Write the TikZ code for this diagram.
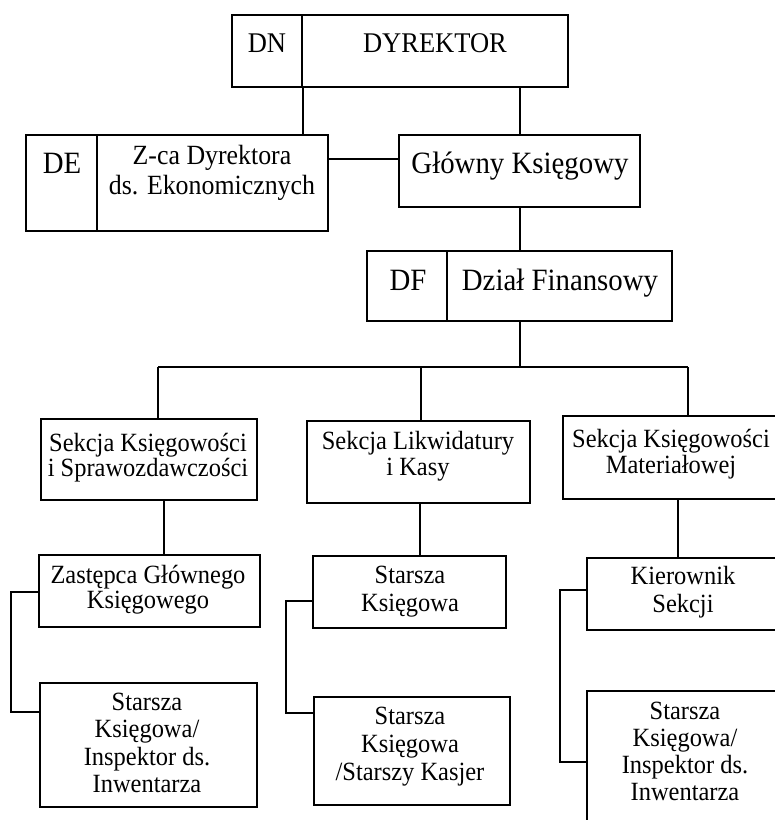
\documentclass[tikz,border=0pt]{standalone}
\usepackage{fontspec}
\setmainfont{Liberation Serif}[FakeStretch=0.93]
\begin{document}
\begin{tikzpicture}[x=1pt,y=-1pt,
  box/.style={draw, line width=1.7pt, inner sep=0pt, rectangle},
  ln/.style={line width=1.7pt},
  big/.style={font=\fontsize{31}{34}\selectfont, anchor=base, inner sep=0pt},
  midt/.style={font=\fontsize{27.8}{30}\selectfont, anchor=base, inner sep=0pt, align=center},
  smt/.style={font=\fontsize{26.3}{#1}\selectfont, anchor=base, inner sep=0pt, align=center},
  smt/.default=27]
\clip (0,0) rectangle (775,820);
\fill[white] (0,0) rectangle (775,820);
% boxes
\node[box, minimum width=336pt, minimum height=72pt] (dyr) at (400,51) {};
\node[box, minimum width=302pt, minimum height=96pt] (de) at (177,183) {};
\node[box, minimum width=241pt, minimum height=72pt] (gk) at (519.5,171) {};
\node[box, minimum width=305pt, minimum height=70pt] (df) at (519.5,286) {};
\node[box, minimum width=216pt, minimum height=81pt] (s1) at (149,459.5) {};
\node[box, minimum width=223pt, minimum height=82pt] (s2) at (418.5,462) {};
\node[box, minimum width=237pt, minimum height=83pt] (s3) at (681.5,457.5) {};
\node[box, minimum width=221pt, minimum height=72pt] (z1) at (149.5,591) {};
\node[box, minimum width=217pt, minimum height=124pt] (z2) at (148.5,745) {};
\node[box, minimum width=193pt, minimum height=72pt] (m1) at (409.5,592) {};
\node[box, minimum width=196pt, minimum height=108pt] (m2) at (412,751) {};
\node[box, minimum width=213pt, minimum height=72pt] (r1) at (693.5,594) {};
\node[box, minimum width=213pt, minimum height=159pt] (r2) at (693.5,770.5) {};
% dividers
\draw[ln] (dyr.north west) ++(71,0) -- ++(0,72);
\draw[ln] (de.north west) ++(72,0) -- ++(0,96);
\draw[ln] (df.north west) ++(81,0) -- ++(0,70);
% texts (anchor base = baseline of the last line)
\node[big, font=\fontsize{28.5}{30}\selectfont] (tdn) at (267,52) {DN};
\node[big, font=\fontsize{28.5}{30}\selectfont] (tdyr) at (435,52) {DYREKTOR};
\node[big] (tde) at (62,173) {DE};
\node[midt] (tzca) at (212,194) {Z-ca Dyrektora\\ds. Ekonomicznych};
\node[big] (tgk) at (520,173) {Główny Księgowy};
\node[big] (tdf) at (408,290) {DF};
\node[big] (tdfin) at (560,290) {Dział Finansowy};
\node[smt=25] (ts1) at (148,476) {Sekcja Księgowości\\i Sprawozdawczości};
\node[smt=26] (ts2) at (418,475) {Sekcja Likwidatury\\i Kasy};
\node[smt=26] (ts3) at (671,473) {Sekcja Księgowości\\Materiałowej};
\node[smt=25] (tz1) at (148,608) {Zastępca Głównego\\Księgowego};
\node[smt=27.5] (tz2) at (147,792.5) {Starsza\\Księgowa/\\Inspektor ds.\\Inwentarza};
\node[smt=28] (tm1) at (410,611) {Starsza\\Księgowa};
\node[smt=28] (tm2) at (410,780) {Starsza\\Księgowa\\/Starszy Kasjer};
\node[smt=28] (tr1) at (683,612) {Kierownik\\Sekcji};
\node[smt=27] (tr2) at (685,800) {Starsza\\Księgowa/\\Inspektor ds.\\Inwentarza};
% helper coordinates
\coordinate (xa) at (303,0);
\coordinate (xb) at (520,0);
\coordinate (yl) at (0,159);
\coordinate (b1) at (158,367);
\coordinate (b2) at (421,367);
\coordinate (b3) at (688,367);
\coordinate (c1) at (164,0);
\coordinate (c2) at (420,0);
\coordinate (c3) at (678,0);
\coordinate (k1a) at (11,592);
\coordinate (k1b) at (11,712);
\coordinate (k2a) at (286,601);
\coordinate (k2b) at (286,713);
\coordinate (k3a) at (560,590);
\coordinate (k3b) at (560,762);
% connectors
\draw[ln] (dyr.south -| xa) -- (de.north -| xa);
\draw[ln] (dyr.south -| xb) -- (gk.north -| xb);
\draw[ln] (de.east |- yl) -- (gk.west |- yl);
\draw[ln] (gk.south -| xb) -- (df.north -| xb);
\draw[ln] (df.south -| xb) -- (b1 -| xb);
\draw[ln] (b1) -- (b3);
\draw[ln] (b1) -- (s1.north -| b1);
\draw[ln] (b2) -- (s2.north -| b2);
\draw[ln] (b3) -- (s3.north -| b3);
\draw[ln] (s1.south -| c1) -- (z1.north -| c1);
\draw[ln] (s2.south -| c2) -- (m1.north -| c2);
\draw[ln] (s3.south -| c3) -- (r1.north -| c3);
\draw[ln] (z1.west |- k1a) -- (k1a) -- (k1b) -- (z2.west |- k1b);
\draw[ln] (m1.west |- k2a) -- (k2a) -- (k2b) -- (m2.west |- k2b);
\draw[ln] (r1.west |- k3a) -- (k3a) -- (k3b) -- (r2.west |- k3b);
\end{tikzpicture}
\end{document}
